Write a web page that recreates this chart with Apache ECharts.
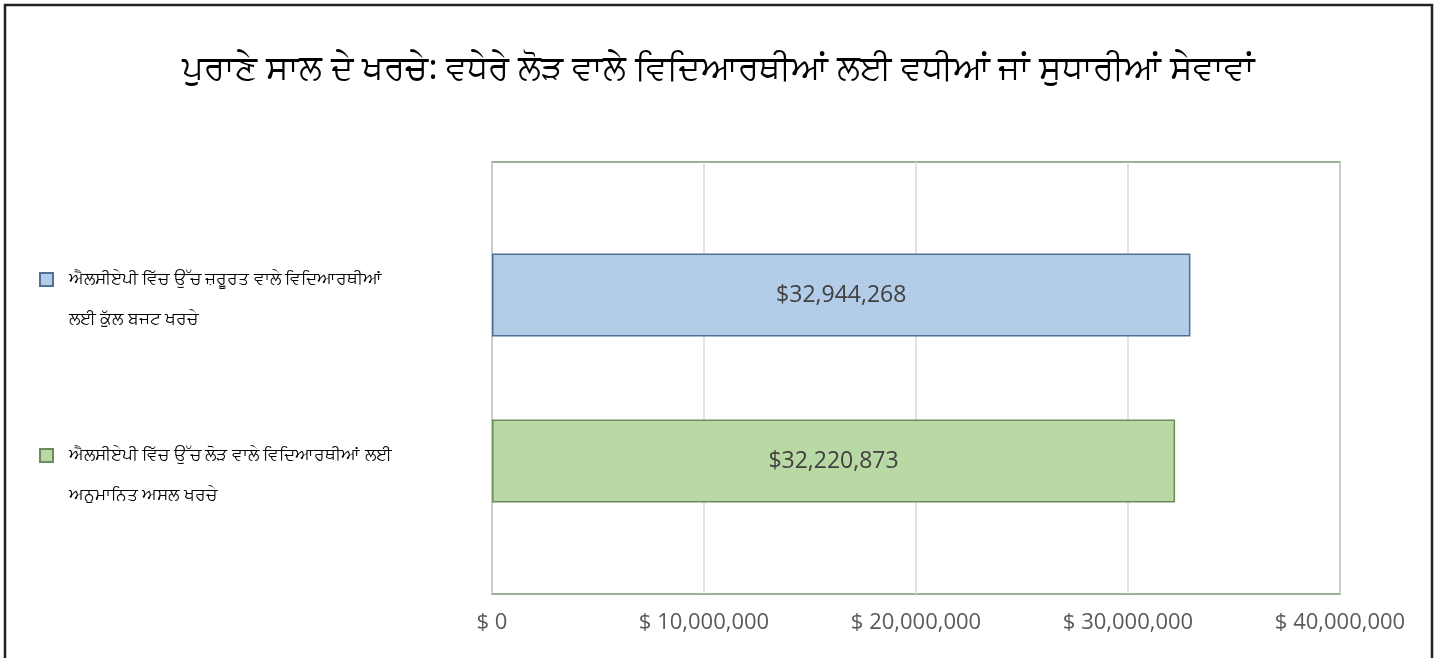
<!DOCTYPE html>
<html>
<head>
<meta charset="utf-8">
<script src="https://cdn.jsdelivr.net/npm/echarts@6/dist/echarts.min.js"></script>
<style>html,body{margin:0;padding:0;background:#fff}#c{width:1437px;height:658px}</style>
</head>
<body>
<div id="c"></div>
<script>
const titleText = 'ਪੁਰਾਣੇ ਸਾਲ ਦੇ ਖਰਚੇ: ਵਧੇਰੇ ਲੋੜ ਵਾਲੇ ਵਿਦਿਆਰਥੀਆਂ ਲਈ ਵਧੀਆਂ ਜਾਂ ਸੁਧਾਰੀਆਂ ਸੇਵਾਵਾਂ';
const categories = [''];
const seriesNames = [
  'ਐਲਸੀਏਪੀ ਵਿੱਚ ਉੱਚ ਜ਼ਰੂਰਤ ਵਾਲੇ ਵਿਦਿਆਰਥੀਆਂ ਲਈ ਕੁੱਲ ਬਜਟ ਖਰਚੇ',
  'ਐਲਸੀਏਪੀ ਵਿੱਚ ਉੱਚ ਲੋੜ ਵਾਲੇ ਵਿਦਿਆਰਥੀਆਂ ਲਈ ਅਨੁਮਾਨਿਤ ਅਸਲ ਖਰਚੇ'
];
const legendLines = [
  ['ਐਲਸੀਏਪੀ ਵਿੱਚ ਉੱਚ ਜ਼ਰੂਰਤ ਵਾਲੇ ਵਿਦਿਆਰਥੀਆਂ', 'ਲਈ ਕੁੱਲ ਬਜਟ ਖਰਚੇ'],
  ['ਐਲਸੀਏਪੀ ਵਿੱਚ ਉੱਚ ਲੋੜ ਵਾਲੇ ਵਿਦਿਆਰਥੀਆਂ ਲਈ', 'ਅਨੁਮਾਨਿਤ ਅਸਲ ਖਰਚੇ']
];
const budgetValues = [32944268];
const actualValues = [32220873];
const xTicks = { min: 0, max: 40000000, interval: 10000000 };

const fmt = v => v.toLocaleString('en-US');
const chart = echarts.init(document.getElementById('c'));
const fill = ['#b3cde9', '#b9d9a4'];
const stroke = ['#4f6f97', '#6b8b5b'];
const values = [budgetValues, actualValues];

chart.setOption({
  animation: false,
  title: {
    text: titleText, left: 'center', top: 47,
    textStyle: { fontSize: 34, fontWeight: 'normal', color: '#000', fontFamily: 'Noto Sans, sans-serif' }
  },
  legend: {
    orient: 'vertical', left: 39, top: 231, padding: 0, itemGap: 79,
    itemWidth: 13, itemHeight: 13, icon: 'rect', data: seriesNames,
    formatter: name => {
      const l = legendLines[seriesNames.indexOf(name)];
      return '{t| }\n{t|' + l[0] + '}\n{t|' + l[1] + '}';
    },
    textStyle: {
      color: '#000', fontSize: 17, fontFamily: 'Noto Sans, sans-serif',
      rich: { t: { lineHeight: 40, fontSize: 17, padding: [0, 0, 0, 11], color: '#000', fontFamily: 'Noto Sans, sans-serif' } }
    }
  },
  grid: { left: 492, right: 97, top: 162, bottom: 64, show: true, borderColor: '#7f9670', borderWidth: 1.5, containLabel: false },
  xAxis: {
    type: 'value', min: xTicks.min, max: xTicks.max, interval: xTicks.interval,
    axisLine: { show: false }, axisTick: { show: false },
    splitLine: { lineStyle: { color: '#d9d9d9', width: 1.5 } },
    axisLabel: { formatter: v => '$ ' + fmt(v), color: '#595959', fontSize: 22, margin: 18, fontFamily: 'Open Sans, sans-serif' }
  },
  yAxis: {
    type: 'category', data: categories,
    axisLine: { show: false }, axisTick: { show: false }, axisLabel: { show: false }
  },
  series: seriesNames.map((n, i) => ({
    name: n, type: 'bar', data: values[i], barWidth: 83, barGap: '100%',
    itemStyle: { color: fill[i], borderColor: stroke[i], borderWidth: 1.5 },
    label: { show: true, position: 'inside', formatter: p => '$' + fmt(p.value), color: '#404040', fontSize: 23, fontFamily: 'Open Sans, sans-serif' }
  })),
  graphic: [{
    type: 'rect', shape: { x: 5, y: 5, width: 1427, height: 670 },
    style: { fill: 'none', stroke: '#222', lineWidth: 2.5 }, silent: true
  }]
});
</script>
</body>
</html>
